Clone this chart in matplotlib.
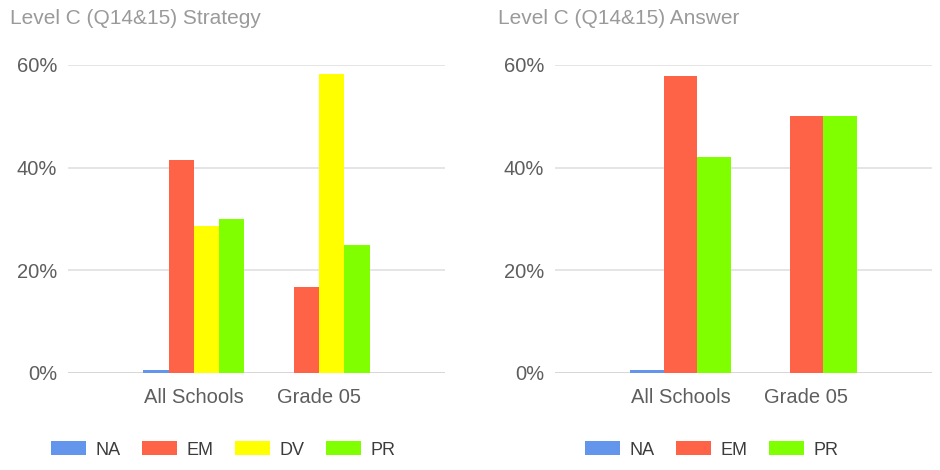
import matplotlib
matplotlib.use('Agg')
import matplotlib.pyplot as plt
import numpy as np

plt.rcParams['font.family'] = ['Liberation Sans', 'DejaVu Sans']

categories = ['All Schools', 'Grade 05']

# Strategy chart (percent)
strategy_series = ['NA', 'EM', 'DV', 'PR']
strategy_na = [0.6, 0.0]
strategy_em = [41.4, 16.7]
strategy_dv = [28.7, 58.3]
strategy_pr = [30.0, 25.0]

# Answer chart (percent)
answer_series = ['NA', 'EM', 'PR']
answer_na = [0.6, 0.0]
answer_em = [57.8, 50.0]
answer_pr = [42.1, 50.0]

colors = {'NA': '#6495ED', 'EM': '#FF6347', 'DV': '#FFFF00', 'PR': '#7FFF00'}
yticks = [0, 20, 40, 60]
tick_color = '#5e5e5e'
title_color = '#9a9a9a'
grid_color = '#e0e0e0'

fig = plt.figure(figsize=(9.4, 4.7), dpi=100)


def draw(ax, names, values, title, title_x, legend_x):
    x = np.arange(len(categories))
    n = len(names)
    w = 0.8 / n
    for i, (name, vals) in enumerate(zip(names, values)):
        ax.bar(x - 0.4 + w * (i + 0.5), vals, width=w, color=colors[name],
               label=name, zorder=3, linewidth=0)
    ax.set_xlim(-1, 2)
    ax.set_ylim(0, 60)
    ax.set_yticks(yticks)
    ax.set_yticklabels([f'{t}%' for t in yticks])
    ax.set_xticks(x)
    ax.set_xticklabels(categories)
    for s in ax.spines.values():
        s.set_visible(False)
    ax.tick_params(axis='both', length=0, colors=tick_color, labelsize=14.5)
    ax.tick_params(axis='y', pad=8)
    ax.tick_params(axis='x', pad=11)
    for t in yticks:
        ax.axhline(t, color='#cfcfcf' if t == 0 else grid_color, lw=1.2, zorder=1)
    fig.text(title_x, 1 - 18 / 470, title, color=title_color, fontsize=15,
             va='center', ha='left')
    leg = fig.legend(*ax.get_legend_handles_labels(), loc='center left',
                     bbox_to_anchor=(legend_x, 1 - 450 / 470), ncol=n,
                     frameon=False, fontsize=13, handlelength=1.95,
                     handleheight=0.8, handletextpad=0.5, columnspacing=1.2,
                     borderpad=0, borderaxespad=0)
    for t in leg.get_texts():
        t.set_color('#3c3c3c')


ax1 = fig.add_axes([68 / 940, 1 - 373 / 470, 377 / 940, 308 / 470])
draw(ax1, strategy_series, [strategy_na, strategy_em, strategy_dv, strategy_pr],
     'Level C (Q14&15) Strategy', 10 / 940, 51 / 940)

ax2 = fig.add_axes([555 / 940, 1 - 373 / 470, 377 / 940, 308 / 470])
draw(ax2, answer_series, [answer_na, answer_em, answer_pr],
     'Level C (Q14&15) Answer', 498 / 940, 585 / 940)

fig.savefig('out.png', dpi=100)
